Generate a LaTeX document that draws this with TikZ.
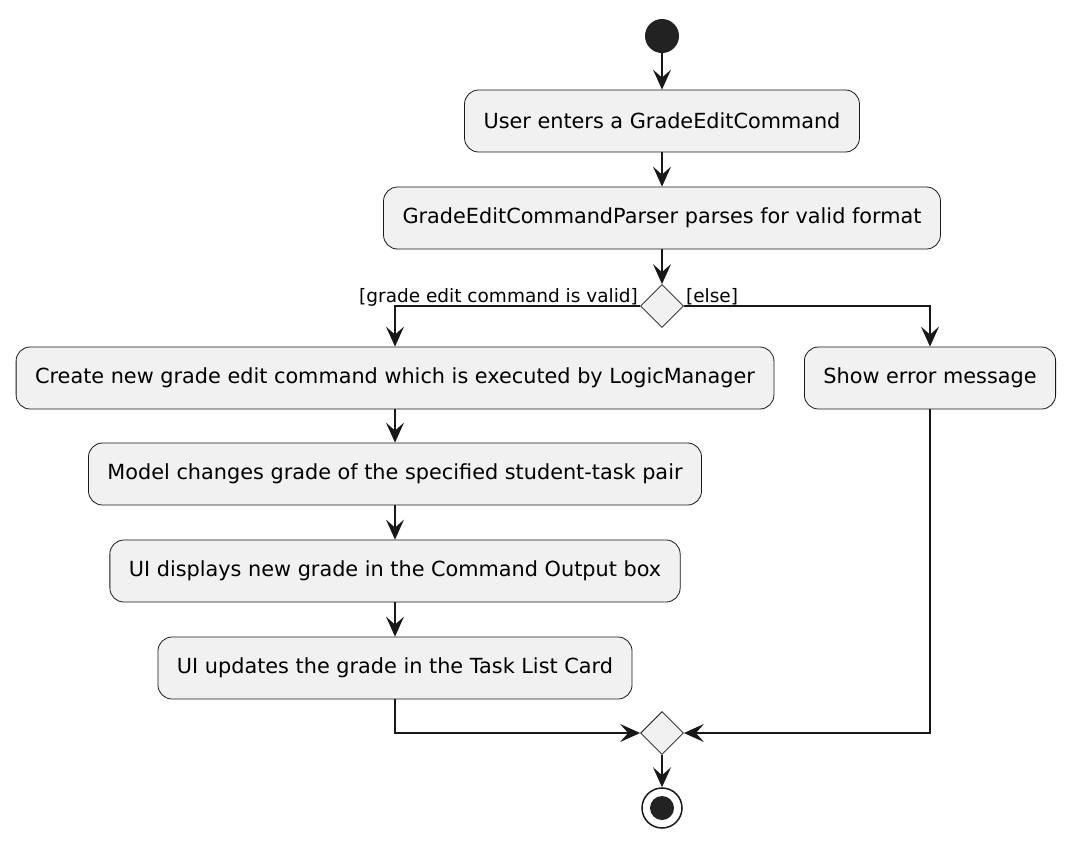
\documentclass[tikz,border=0pt]{standalone}
\usepackage{fontspec}
\setmainfont{DejaVu Sans}
\usetikzlibrary{arrows.meta,shapes.geometric}
\definecolor{actfill}{HTML}{F1F1F1}
\definecolor{actline}{HTML}{181818}
\definecolor{dotfill}{HTML}{222222}
\begin{document}
\begin{tikzpicture}[
        x                = 1pt,
        y                = -1pt,
        act/.style       = {draw=actline, fill=actfill, rounded corners=14pt, minimum height=62pt, inner xsep=19pt, line width=0.8pt, font=\fontsize{20.8}{24}\selectfont},
        branch/.style    = {diamond, draw=actline, fill=actfill, minimum width=43pt, minimum height=43pt, inner sep=0pt, line width=0.8pt},
        flow/.style      = {draw=actline, line width=1.3pt, -{Stealth[length=20pt, width=18pt, inset=8pt]}},
        guard/.style     = {inner sep=0pt, font=\fontsize{18.5}{22}\selectfont},
        %rounded corners = 0pt
      ]
        \useasboundingbox (0,0) rectangle (1071,847);
        \node[circle, fill=dotfill, minimum size=34pt, inner sep=0pt] (start) at (662,36) {};
        \node[act] (enter) at (662,121) {User enters a GradeEditCommand};
        \node[act] (parse) at (662,218) {GradeEditCommandParser parses for valid format};
        \node[branch] (check) at (662,306) {};
        \node[act] (create) at (395,378) {Create new grade edit command which is executed by LogicManager};
        \node[act] (error) at (930,378) {Show error message};
        \node[act] (model) at (395,474) {Model changes grade of the specified student-task pair};
        \node[act] (shows) at (395,571) {UI displays new grade in the Command Output box};
        \node[act] (update) at (395,668) {UI updates the grade in the Task List Card};
        \node[branch] (merge) at (662,733) {};
        \node[circle, draw=actline, line width=1.5pt, minimum size=40pt, inner sep=0pt] (stop) at (662,808) {};
        \fill[dotfill] (stop) circle (12pt);

        \node[guard, anchor=base east] at ([xshift=-2pt, yshift=4pt]check.west) {[grade edit command is valid]};
        \node[guard, anchor=base west] at ([xshift=2pt, yshift=4pt]check.east) {[else]};

        \draw[flow] (start) -- (enter);
        \draw[flow] (enter) -- (parse);
        \draw[flow] (parse) -- (check);
        \draw[flow] (check.west) -| (create.north);
        \draw[flow] (check.east) -| (error.north);
        \draw[flow] (create) -- (model);
        \draw[flow] (model) -- (shows);
        \draw[flow] (shows) -- (update);
        \draw[flow] (update.south) |- (merge.west);
        \draw[flow] (error.south) |- (merge.east);
        \draw[flow] (merge) -- (stop);
    \end{tikzpicture}
\end{document}
